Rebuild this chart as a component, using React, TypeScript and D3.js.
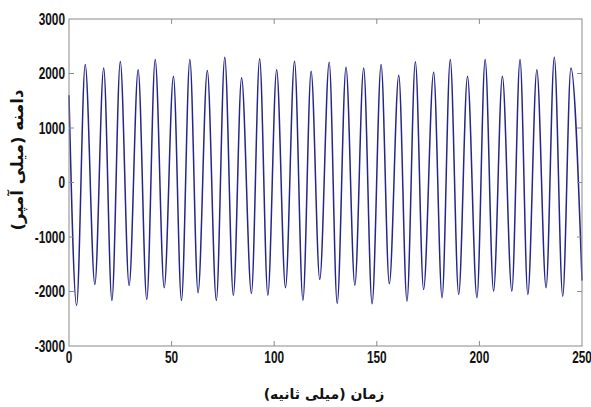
import React, { useRef, useEffect } from "react";
import * as d3 from "d3";

// values (ms, mA)
const peakTimes = [
  7.9, 16.9, 25.0, 33.7, 42.0, 50.9, 58.9, 67.4, 75.9, 84.1, 92.9, 101.2, 109.9,
  118.0, 126.8, 135.0, 143.6, 152.1, 160.7, 168.8, 177.7, 185.8, 194.2, 202.8,
  211.2, 219.8, 228.0, 236.5, 244.6,
];
const peakValues = [
  2165, 2100, 2220, 2070, 2255, 1950, 2255, 2055, 2300, 1920, 2270, 2070, 2225,
  2040, 2205, 2115, 2100, 2165, 1970, 2215, 2025, 2255, 1950, 2255, 1950, 2255,
  2070, 2300, 2100,
];
const troughTimes = [
  3.7, 12.6, 20.9, 29.3, 37.9, 46.4, 54.8, 62.9, 71.8, 80.1, 88.9, 96.9, 105.5,
  114.0, 122.2, 130.7, 139.3, 147.7, 156.1, 164.7, 172.8, 181.8, 189.9, 198.8,
  206.9, 215.8, 223.6, 232.5, 240.6,
];
const troughValues = [
  -2257, -1872, -2165, -1890, -2147, -1933, -2165, -2024, -2165, -2070, -2037,
  -2067, -1933, -2159, -1780, -2220, -1884, -2226, -1859, -2177, -1963, -2116,
  -2055, -2116, -1994, -1994, -2055, -1933, -2086,
];
const startPoint = [0, 1600];
const endPoint = [250, -1800];

const xTicks = [0, 50, 100, 150, 200, 250];
const yTicks = [-3000, -2000, -1000, 0, 1000, 2000, 3000];
const xTitle = "زمان (میلی ثانیه)";
const yTitle = "دامنه (میلی آمپر)";

const App = () => {
  const chartRef = useRef(null);

  useEffect(() => {
    const width = 591;
    const height = 407;
    const margin = { top: 19, right: 9, bottom: 61, left: 69 };

    d3.select(chartRef.current).selectAll("*").remove();
    const svg = d3
      .select(chartRef.current)
      .append("svg")
      .attr("width", width)
      .attr("height", height)
      .style("position", "absolute")
      .style("left", "0px")
      .style("top", "0px")
      .style("background", "#ffffff");

    const x = d3
      .scaleLinear()
      .domain([0, 250])
      .range([margin.left, width - margin.right]);
    const y = d3
      .scaleLinear()
      .domain([-3000, 3000])
      .range([height - margin.bottom, margin.top]);

    // merge extrema into one series sorted by time
    var pts = [startPoint];
    peakTimes.forEach((t, i) => pts.push([t, peakValues[i]]));
    troughTimes.forEach((t, i) => pts.push([t, troughValues[i]]));
    pts.push(endPoint);
    pts.sort((a, b) => a[0] - b[0]);

    const line = d3
      .line()
      .x((d) => x(d[0]))
      .y((d) => y(d[1]))
      .curve(d3.curveMonotoneX);

    svg
      .append("path")
      .datum(pts)
      .attr("d", line)
      .attr("fill", "none")
      .attr("stroke", "#25258a")
      .attr("stroke-width", 1.5);

    const axisColor = "#8a8a8a";
    const tickLen = 5;
    const x0 = x(0),
      x1 = x(250),
      y0 = y(-3000),
      y1 = y(3000);

    svg
      .append("rect")
      .attr("x", x0)
      .attr("y", y1)
      .attr("width", x1 - x0)
      .attr("height", y0 - y1)
      .attr("fill", "none")
      .attr("stroke", axisColor)
      .attr("stroke-width", 1);

    // ticks on all four sides, pointing inward
    xTicks.slice(1, -1).forEach((t) => {
      svg
        .append("line")
        .attr("x1", x(t))
        .attr("x2", x(t))
        .attr("y1", y0)
        .attr("y2", y0 - tickLen)
        .attr("stroke", axisColor);
      svg
        .append("line")
        .attr("x1", x(t))
        .attr("x2", x(t))
        .attr("y1", y1)
        .attr("y2", y1 + tickLen)
        .attr("stroke", axisColor);
    });
    yTicks.slice(1, -1).forEach((t) => {
      svg
        .append("line")
        .attr("x1", x0)
        .attr("x2", x0 + tickLen)
        .attr("y1", y(t))
        .attr("y2", y(t))
        .attr("stroke", axisColor);
      svg
        .append("line")
        .attr("x1", x1)
        .attr("x2", x1 - tickLen)
        .attr("y1", y(t))
        .attr("y2", y(t))
        .attr("stroke", axisColor);
    });

    // tick labels: narrow bold look
    const labelFont = "'Liberation Sans', Arial, sans-serif";
    yTicks.forEach((t) => {
      svg
        .append("g")
        .attr("transform", `translate(${x0 - 4},${y(t)}) scale(0.74,1)`)
        .append("text")
        .attr("text-anchor", "end")
        .attr("dy", "0.36em")
        .attr("font-family", labelFont)
        .attr("font-weight", "bold")
        .attr("font-size", "16px")
        .attr("fill", "#111")
        .text(t);
    });
    xTicks.forEach((t) => {
      svg
        .append("g")
        .attr("transform", `translate(${x(t)},${y0 + 17}) scale(0.74,1)`)
        .append("text")
        .attr("text-anchor", "middle")
        .attr("font-family", labelFont)
        .attr("font-weight", "bold")
        .attr("font-size", "16px")
        .attr("fill", "#111")
        .text(t);
    });

    svg
      .append("text")
      .attr("x", 324)
      .attr("y", 399)
      .attr("text-anchor", "middle")
      .attr("direction", "rtl")
      .attr("font-family", "'DejaVu Sans', sans-serif")
      .attr("font-weight", "bold")
      .attr("font-size", "14px")
      .attr("fill", "#111")
      .text(xTitle);

    svg
      .append("text")
      .attr("transform", `translate(23,160) rotate(-90)`)
      .attr("text-anchor", "middle")
      .attr("direction", "rtl")
      .attr("font-family", "'DejaVu Sans', sans-serif")
      .attr("font-weight", "bold")
      .attr("font-size", "16.5px")
      .attr("fill", "#111")
      .text(yTitle);
  }, []);

  return <div ref={chartRef}></div>;
};

export default App;
